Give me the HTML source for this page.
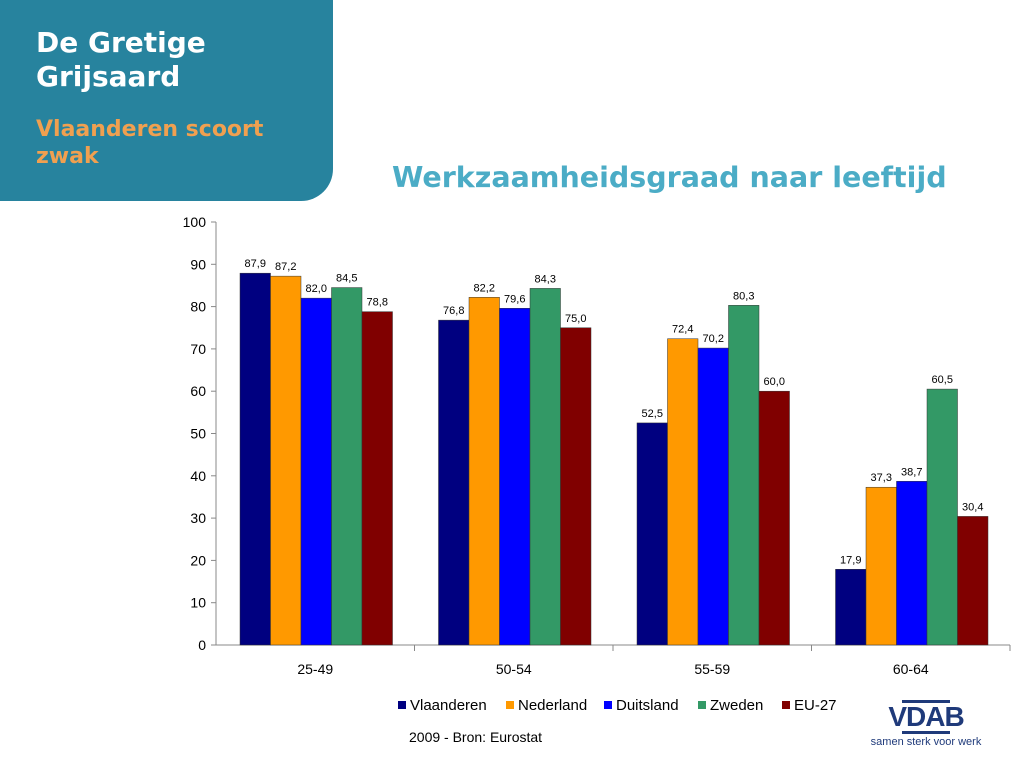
<!DOCTYPE html>
<html><head><meta charset="utf-8"><style>
body{margin:0;width:1024px;height:768px;background:#fff;font-family:"Liberation Sans",sans-serif;position:relative;overflow:hidden}
#panel{position:absolute;left:0;top:0;width:333px;height:201px;background:#27839E;border-bottom-right-radius:32px}
#t1{position:absolute;left:36px;top:26px;color:#fff;font:bold 28px "DejaVu Sans",sans-serif;line-height:34px}
#t2{position:absolute;left:36px;top:116px;color:#F0A050;font:bold 22px "DejaVu Sans",sans-serif;line-height:27px}
#ct{position:absolute;left:392px;top:161px;color:#4BACC6;font:bold 28.5px "DejaVu Sans",sans-serif;white-space:nowrap}
svg{position:absolute;left:0;top:0}
</style></head><body>
<div id="panel">
<div id="t1">De Gretige<br>Grijsaard</div>
<div id="t2">Vlaanderen scoort<br>zwak</div>
</div>
<div id="ct">Werkzaamheidsgraad naar leeftijd</div>
<svg id="c" width="1024" height="768"></svg>
<div style="position:absolute;left:409px;top:729px;font-size:14px">2009 - Bron: Eurostat</div>
<div style="position:absolute;left:866px;top:700px;width:120px;text-align:center">
<div style="margin:0 auto;width:48px;height:3px;background:#1F3A7A"></div>
<div style="font:bold 28px 'Liberation Sans',sans-serif;color:#1F3A7A;line-height:28px;letter-spacing:-1px">VDAB</div>
<div style="margin:0 auto;width:48px;height:3px;background:#1F3A7A"></div>
<div style="font-size:11px;color:#1F3A7A;margin-top:2px;white-space:nowrap">samen sterk voor werk</div>
</div>
<script>
const categories=["25-49","50-54","55-59","60-64"];
const seriesNames=["Vlaanderen","Nederland","Duitsland","Zweden","EU-27"];
const colors=["#000080","#FF9900","#0000FF","#339966","#800000"];
const vlaanderen=[87.9,76.8,52.5,17.9];
const nederland=[87.2,82.2,72.4,37.3];
const duitsland=[82.0,79.6,70.2,38.7];
const zweden=[84.5,84.3,80.3,60.5];
const eu27=[78.8,75.0,60.0,30.4];
const yTicks=[0,10,20,30,40,50,60,70,80,90,100];
const series=[vlaanderen,nederland,duitsland,zweden,eu27];
const NS="http://www.w3.org/2000/svg";
const svg=document.getElementById("c");
const X0=216,X1=1010,Y0=645,Y1=222;
const y=v=>Y0-(v/100)*(Y0-Y1);
const gw=(X1-X0)/categories.length,bw=30.5,off=24;
function el(t,a,txt){const e=document.createElementNS(NS,t);for(const k in a)e.setAttribute(k,a[k]);if(txt!==undefined)e.textContent=txt;svg.appendChild(e);return e;}
yTicks.forEach(t=>{
 const l=el("line",{x1:X0-5,x2:X0,y1:y(t),y2:y(t),stroke:"#888"});
 
 
 const tx=el("text",{x:X0-10,y:y(t)+5,"text-anchor":"end","font-size":14,fill:"#000"},t);
 
 
});
const ax=el("line",{x1:X0,x2:X0,y1:Y1,y2:Y0,stroke:"#888"});


const xa=el("line",{x1:X0,x2:X1,y1:Y0,y2:Y0,stroke:"#888"});


categories.forEach((c,i)=>{
 const gx=X0+i*gw;
 const tk=el("line",{x1:gx+gw,x2:gx+gw,y1:Y0,y2:Y0+6,stroke:"#888"});
 
 
 const lb=el("text",{x:gx+gw/2,y:Y0+29,"text-anchor":"middle","font-size":14},c);
 
 
 series.forEach((s,j)=>{
  const bx=gx+off+j*bw,v=s[i];
  const r=el("rect",{x:bx,y:y(v),width:bw,height:Y0-y(v),fill:colors[j],stroke:"#333","stroke-width":0.5});
  
  
  const vt=el("text",{x:bx+bw/2,y:y(v)-6,"text-anchor":"middle","font-size":11},v.toFixed(1).replace(".",","));
  
  
 });
});
const lx=[398,506,604,698,782];
seriesNames.forEach((n,j)=>{
 const m=el("rect",{x:lx[j],y:701,width:8,height:8,fill:colors[j]});
 
 
 const t=el("text",{x:lx[j]+12,y:710,"font-size":15},n);
 
 
});
</script>
</body></html>
